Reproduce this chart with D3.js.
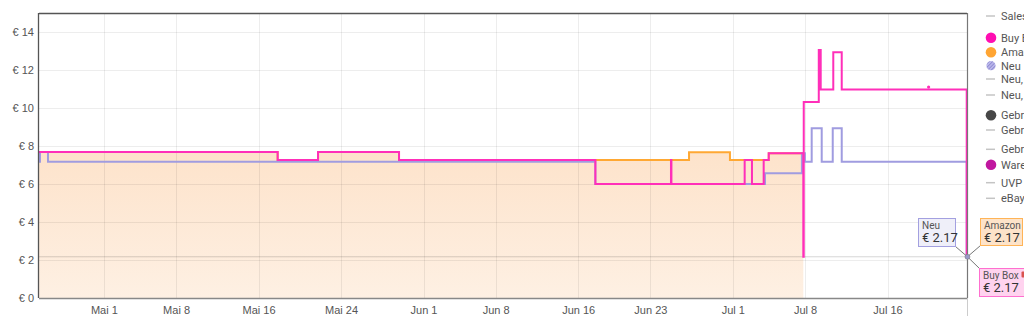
<!DOCTYPE html>
<html>
<head>
<meta charset="utf-8">
<script src="https://cdn.jsdelivr.net/npm/d3@7"></script>
<style>
  html, body { margin: 0; padding: 0; background: #fff; }
  svg { display: block; font-family: Roboto, "Liberation Sans", Arial, sans-serif; }
</style>
</head>
<body>
<svg id="chart" width="1024" height="316"></svg>
<script>
// ---------------- DATA ----------------
const tickDates = ["2023-05-01","2023-05-08","2023-05-16","2023-05-24","2023-06-01","2023-06-08","2023-06-16","2023-06-23","2023-07-01","2023-07-08","2023-07-16"];
const tickLabels = ["Mai 1","Mai 8","Mai 16","Mai 24","Jun 1","Jun 8","Jun 16","Jun 23","Jul 1","Jul 8","Jul 16"];
const yTickValues = [0, 2, 4, 6, 8, 10, 12, 14];
const yTickLabels = ["€ 0","€ 2","€ 4","€ 6","€ 8","€ 10","€ 12","€ 14"];

const buyBoxDates = ["2023-04-24T17:00","2023-05-17T20:30","2023-05-21T18:30","2023-05-29T15:00","2023-06-17T16:00","2023-06-25T00:00","2023-06-25T01:00","2023-07-02T03:30","2023-07-02T20:30","2023-07-03T23:45","2023-07-04T11:30","2023-07-07T20:00","2023-07-07T21:00","2023-07-09T08:00","2023-07-09T12:30","2023-07-10T17:45","2023-07-11T13:25","2023-07-23T16:20","2023-07-23T17:00"];
const buyBoxValues = [7.69, 7.26, 7.69, 7.26, 6.00, 7.26, 6.00, 7.26, 6.00, 7.26, 7.62, 2.17, 10.32, 13.05, 10.98, 12.93, 10.98, 2.17, 2.17];
const buyBoxMarkerDates = ["2023-07-19T23:40"];
const buyBoxMarkerValues = [11.05];

const amazonDates = ["2023-04-24T17:00","2023-05-17T20:30","2023-05-21T18:30","2023-05-29T15:00","2023-06-26T18:00","2023-06-30T17:15","2023-07-04T11:30","2023-07-07T20:00"];
const amazonValues = [7.69, 7.26, 7.69, 7.26, 7.67, 7.26, 7.62, 7.62];

const neuDates = ["2023-04-24T17:00","2023-04-24T19:20","2023-04-25T13:55","2023-06-17T16:00","2023-07-04T02:50","2023-07-07T16:45","2023-07-07T23:45","2023-07-08T15:30","2023-07-09T14:50","2023-07-10T16:30","2023-07-11T13:25","2023-07-23T16:20","2023-07-23T17:00"];
const neuValues = [7.17, 7.69, 7.17, 6.00, 6.56, 7.62, 7.17, 8.93, 7.17, 8.93, 7.17, 2.17, 2.17];

const hoverDate = "2023-07-23T16:50";
const hoverValue = 2.17;
const tooltipNames = ["Neu", "Amazon", "Buy Box"];
const tooltipValues = ["€ 2.17", "€ 2.17", "€ 2.17"];

const legendLabels = ["Sales Rank","Buy Box","Amazon","Neu","Neu, FBA","Neu, FBM mit Versand","Gebraucht","Gebraucht, wie neu","Gebraucht, sehr gut","Warehouse Deals","UVP","eBay Neu"];
const legendKinds = ["line","dot","dot","hatch","line","line","dot","line","line","dot","line","line"];

// ---------------- STYLE / LAYOUT ----------------
const W = 1024, H = 316;
const plot = { left: 39, right: 967, top: 13, bottom: 298 };
const colors = {
  buyBox: "#ff2fb9", amazon: "#ffa833", neu: "#a09ce0",
  legendDot: { "Buy Box": "#ff0eb2", "Amazon": "#ffa533", "Gebraucht": "#474747", "Warehouse Deals": "#c0179f" }
};
const legendY = [16, 37.7, 52.3, 65.7, 79, 95, 115.3, 130, 149.3, 164.7, 182.7, 198.3];

const parse = d3.isoParse;
const svg = d3.select("#chart");

const x = d3.scaleTime()
  .domain([new Date(2023, 3, 24, 17), new Date(2023, 6, 23, 17)])
  .range([plot.left, plot.right]);
const y = d3.scaleLinear().domain([0, 15]).range([plot.bottom, plot.top]);

const toPts = (ds, vs) => ds.map((d, i) => ({ t: parse(d), v: vs[i] }));
const buyBox = toPts(buyBoxDates, buyBoxValues);
const amazon = toPts(amazonDates, amazonValues);
const neu = toPts(neuDates, neuValues);

// defs
const defs = svg.append("defs");
const grad = defs.append("linearGradient").attr("id", "fillGrad").attr("x1", 0).attr("x2", 0).attr("y1", 0).attr("y2", 1);
grad.append("stop").attr("offset", "0%").attr("stop-color", "#fde3cb");
grad.append("stop").attr("offset", "100%").attr("stop-color", "#fef0e3");
const pat = defs.append("pattern").attr("id", "hatch").attr("patternUnits", "userSpaceOnUse")
  .attr("width", 2.5).attr("height", 2.5).attr("patternTransform", "rotate(45)");
pat.append("rect").attr("width", 2.5).attr("height", 2.5).attr("fill", "#b9b6ea");
pat.append("line").attr("x1", 0).attr("y1", 0).attr("x2", 0).attr("y2", 2.5).attr("stroke", "#7c78c8").attr("stroke-width", 1.2);
defs.append("clipPath").attr("id", "plotClip").append("rect")
  .attr("x", plot.left).attr("y", plot.top - 2).attr("width", plot.right - plot.left + 2).attr("height", plot.bottom - plot.top + 3);

// Amazon fill area
const area = d3.area().curve(d3.curveStepAfter).x(d => x(d.t)).y0(y(0)).y1(d => y(d.v));
svg.append("path").datum(amazon).attr("d", area).attr("fill", "url(#fillGrad)");

// grid
const grid = svg.append("g");
grid.selectAll("line.v").data(tickDates).join("line")
  .attr("x1", d => Math.round(x(parse(d))) + 0.5).attr("x2", d => Math.round(x(parse(d))) + 0.5)
  .attr("y1", plot.top).attr("y2", plot.bottom)
  .attr("stroke", "rgba(0,0,0,0.07)").attr("stroke-width", 1);
grid.selectAll("line.h").data(yTickValues.filter(v => v > 0)).join("line")
  .attr("x1", plot.left).attr("x2", plot.right)
  .attr("y1", d => Math.round(y(d)) + 0.5).attr("y2", d => Math.round(y(d)) + 0.5)
  .attr("stroke", "rgba(0,0,0,0.07)").attr("stroke-width", 1);

// crosshair at hover value
svg.append("line")
  .attr("x1", plot.left).attr("x2", plot.right)
  .attr("y1", y(hoverValue)).attr("y2", y(hoverValue))
  .attr("stroke", "rgba(0,0,0,0.16)").attr("stroke-width", 1);

// lines
const line = d3.line().curve(d3.curveStepAfter).x(d => x(d.t)).y(d => y(d.v));
const series = svg.append("g").attr("clip-path", "url(#plotClip)");
series.append("path").datum(amazon).attr("d", line).attr("fill", "none").attr("stroke", colors.amazon).attr("stroke-width", 2);
series.append("path").datum(neu).attr("d", line).attr("fill", "none").attr("stroke", colors.neu).attr("stroke-width", 2);
series.append("path").datum(buyBox).attr("d", line).attr("fill", "none").attr("stroke", colors.buyBox).attr("stroke-width", 2);
series.selectAll("circle.m").data(buyBoxMarkerDates).join("circle")
  .attr("cx", (d) => x(parse(d))).attr("cy", (d, i) => y(buyBoxMarkerValues[i]) - 1)
  .attr("r", 1.6).attr("fill", colors.buyBox);

// frame
svg.append("line").attr("x1", plot.left).attr("x2", plot.right).attr("y1", plot.top + 0.5).attr("y2", plot.top + 0.5).attr("stroke", "#555").attr("stroke-width", 1.3);
svg.append("line").attr("x1", plot.left - 0.5).attr("x2", plot.left - 0.5).attr("y1", plot.top).attr("y2", plot.bottom).attr("stroke", "#555").attr("stroke-width", 1.3);
svg.append("line").attr("x1", plot.right + 0.5).attr("x2", plot.right + 0.5).attr("y1", plot.top).attr("y2", plot.bottom).attr("stroke", "#777").attr("stroke-width", 1.2);
svg.append("line").attr("x1", plot.right + 0.5).attr("x2", plot.right + 0.5).attr("y1", plot.bottom).attr("y2", H).attr("stroke", "#ccc").attr("stroke-width", 1);
svg.append("line").attr("x1", plot.left).attr("x2", plot.right).attr("y1", plot.bottom + 0.5).attr("y2", plot.bottom + 0.5).attr("stroke", "#888").attr("stroke-width", 1.3);

// axes
const xAxis = d3.axisBottom(x).tickValues(tickDates.map(parse)).tickSize(0).tickPadding(8)
  .tickFormat((d, i) => tickLabels[i]);
const gx = svg.append("g").attr("transform", `translate(0,${plot.bottom})`).call(xAxis);
gx.select(".domain").remove();
gx.selectAll("text").attr("fill", "#555").attr("font-size", 11);

const yAxis = d3.axisLeft(y).tickValues(yTickValues).tickSize(0).tickPadding(5)
  .tickFormat((d, i) => yTickLabels[i]);
const gy = svg.append("g").attr("transform", `translate(${plot.left},0)`).call(yAxis);
gy.select(".domain").remove();
gy.selectAll("text").attr("fill", "#555").attr("font-size", 11);

// tooltips
const px = x(parse(hoverDate)) + 0.5, py = y(hoverValue);
const tips = [
  { dx: -49, dy: -39, w: 37, h: 28, fill: "#efeff9", stroke: "#a3a0e0", anchor: [-11, 28] },
  { dx: 12.5, dy: -39, w: 42, h: 27, fill: "#fde3c9", stroke: "#ffb457", anchor: [0, 27] },
  { dx: 11.5, dy: 11.5, w: 50, h: 28, fill: "#ffd3ef", stroke: "#ff6fcf", anchor: [0, 0] }
];
const tipG = svg.append("g");
tips.forEach((t, i) => {
  const bx = Math.round(px + t.dx) + 0.5, by = Math.round(py + t.dy) + 0.5;
  tipG.append("line").attr("x1", px).attr("y1", py)
    .attr("x2", bx + (t.anchor[0] < 0 ? t.w : 0)).attr("y2", by + t.anchor[1])
    .attr("stroke", "#777").attr("stroke-width", 1);
});
tipG.append("circle").attr("cx", px).attr("cy", py).attr("r", 2.5).attr("fill", "#9a98c8").attr("stroke", "#777").attr("stroke-width", 0.5);
tips.forEach((t, i) => {
  const bx = Math.round(px + t.dx) + 0.5, by = Math.round(py + t.dy) + 0.5;
  tipG.append("rect").attr("x", bx).attr("y", by).attr("width", t.w).attr("height", t.h)
    .attr("fill", t.fill).attr("stroke", t.stroke).attr("stroke-width", 1);
  tipG.append("text").attr("x", bx + 3.5).attr("y", by + 10.5).attr("font-size", 10).attr("fill", "#555").text(tooltipNames[i]);
  tipG.append("text").attr("x", bx + 3.5).attr("y", by + 23.5).attr("font-size", 13).attr("fill", "#333").text(tooltipValues[i]);
  if (i === 2) {
    tipG.append("rect").attr("x", bx + 42).attr("y", by + 3).attr("width", 8).attr("height", 6).attr("rx", 1).attr("fill", "#d9534f");
  }
});

// legend
const lg = svg.append("g");
legendLabels.forEach((lab, i) => {
  const cy = legendY[i];
  const k = legendKinds[i];
  if (k === "line") {
    lg.append("line").attr("x1", 986).attr("x2", 995).attr("y1", cy).attr("y2", cy).attr("stroke", "#c4c4c4").attr("stroke-width", 1.5);
  } else if (k === "dot") {
    lg.append("circle").attr("cx", 991).attr("cy", cy).attr("r", 5.3).attr("fill", colors.legendDot[lab]);
  } else {
    lg.append("circle").attr("cx", 991).attr("cy", cy).attr("r", 4.6).attr("fill", "url(#hatch)");
  }
  lg.append("text").attr("x", 1001).attr("y", cy).attr("dy", "0.35em").attr("font-size", 11).attr("fill", "#555").text(lab);
});
</script>
</body>
</html>
